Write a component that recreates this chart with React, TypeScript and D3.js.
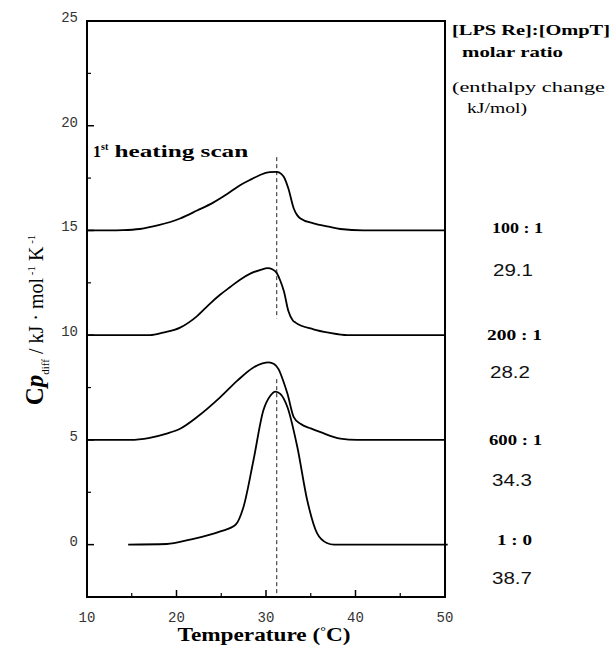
import React from "react";
import * as d3 from "d3";

const xTicksMajor = [10, 20, 30, 40, 50];
const xTicksMinor = [15, 25, 35, 45];
const yTicksMajor = [0, 5, 10, 15, 20, 25];
const yTicksMinor = [2.5, 7.5, 12.5, 17.5, 22.5];

const series100: [number, number][] = [
  [10, 15], [14, 15.02], [15.9, 15.07], [18, 15.25], [20.4, 15.57], [22.3, 15.95], [24.1, 16.33],
  [25.7, 16.75], [27.1, 17.16], [28.4, 17.45], [29.4, 17.66], [30.4, 17.78], [31.2, 17.8],
  [31.7, 17.7], [32.0, 17.55], [32.5, 17.0], [33.1, 16.05], [33.5, 15.72], [33.85, 15.57],
  [35.3, 15.34], [37, 15.18], [38.3, 15.07], [40.9, 15], [50, 15],
];
const series200: [number, number][] = [
  [10, 10], [17.05, 10], [18.5, 10.12], [20.4, 10.36], [22.3, 10.91], [23.6, 11.45], [24.9, 11.94],
  [26, 12.3], [27.1, 12.65], [28.3, 12.95], [29.4, 13.12], [30.2, 13.2], [30.7, 13.15], [31.2, 12.97],
  [31.6, 12.6], [32.0, 12.1], [32.5, 11.15], [33, 10.7], [33.3, 10.6], [35.3, 10.28], [37, 10.12],
  [39.1, 10], [50, 10],
];
const series600: [number, number][] = [
  [10, 5], [14.8, 5], [17, 5.1], [18.9, 5.3], [20.4, 5.53], [22.3, 6.09], [24.9, 7.04], [26.8, 7.83],
  [28.6, 8.46], [29.6, 8.65], [30.3, 8.7], [30.9, 8.62], [31.4, 8.38], [31.9, 7.85], [32.4, 7.2],
  [33.1, 6.09], [33.85, 5.77], [35, 5.55], [36.1, 5.37], [38.3, 5.06], [40.2, 5], [50, 5],
];
const series10: [number, number][] = [
  [14.6, 0], [18.9, 0.03], [21.5, 0.24], [24.9, 0.63], [26.6, 0.95], [27.5, 1.82], [28.6, 4.03],
  [29.7, 6.4], [30.5, 7.12], [31.05, 7.31], [31.6, 7.2], [32.4, 6.56], [33.5, 4.66], [34.6, 2.13],
  [35.7, 0.55], [36.8, 0.08], [37.6, 0], [50.3, 0],
];
const allSeries = [series100, series200, series600, series10];

const peakT = 31.2;
const dashSegments: [number, number][] = [[18.5, 10.8], [7.9, -2.5]];

const ratioLabels = ["100 : 1", "200 : 1", "600 : 1", "1 : 0"];
const enthalpyLabels = ["29.1", "28.2", "34.3", "38.7"];

const W = 614, H = 663;
const left = 87, right = 445, top = 21, bottom = 597;

export default function App() {
  const x = d3.scaleLinear().domain([10, 50]).range([left, right]);
  const y = d3.scaleLinear().domain([-2.5, 25]).range([bottom, top]);
  const line = d3.line<[number, number]>().x(d => x(d[0])).y(d => y(d[1])).curve(d3.curveMonotoneX);

  const ratioY = [228, 335, 440, 540];
  const ratioX = [492, 487, 489, 497];
  const ratioW = [51, 55, 53, 35];
  const enthY = [270, 372, 480, 578];
  const enthX = [493, 490, 492, 492];

  return (
    <svg width={W} height={H} style={{ position: "absolute", left: 0, top: 0, background: "#fff" }}>
      <rect x={0} y={0} width={W} height={H} fill="#fff" />
      {xTicksMajor.map(t => (
        <line key={"xM" + t} x1={x(t)} x2={x(t)} y1={bottom} y2={bottom - 7} stroke="#000" strokeWidth={1.5} />
      ))}
      {xTicksMinor.map(t => (
        <line key={"xm" + t} x1={x(t)} x2={x(t)} y1={bottom} y2={bottom - 4} stroke="#000" strokeWidth={1.2} />
      ))}
      {yTicksMajor.map(t => (
        <line key={"yM" + t} x1={left} x2={left + 7} y1={y(t)} y2={y(t)} stroke="#000" strokeWidth={1.5} />
      ))}
      {yTicksMinor.map(t => (
        <line key={"ym" + t} x1={left} x2={left + 4} y1={y(t)} y2={y(t)} stroke="#000" strokeWidth={1.2} />
      ))}
      {xTicksMajor.map(t => (
        <text key={"xl" + t} x={x(t)} y={622} textAnchor="middle" fontFamily="Liberation Mono, DejaVu Sans Mono" fontSize={14} fill="#333">{t}</text>
      ))}
      {yTicksMajor.map(t => (
        <text key={"yl" + t} x={78} y={y(t) + 1} textAnchor="end" fontFamily="Liberation Mono, DejaVu Sans Mono" fontSize={14} fill="#333">{t}</text>
      ))}
      {dashSegments.map((s, i) => (
        <line key={"d" + i} x1={x(peakT)} x2={x(peakT)} y1={y(s[0])} y2={y(s[1])} stroke="#222" strokeWidth={1} strokeDasharray="4,3" />
      ))}
      {allSeries.map((s, i) => (
        <path key={"s" + i} d={line(s) || ""} fill="none" stroke="#000" strokeWidth={1.8} />
      ))}
      <rect x={left} y={top} width={right - left} height={bottom - top} fill="none" stroke="#000" strokeWidth={2} />
      <text x={93} y={157} fontFamily="Liberation Serif, serif" fontWeight="bold" fontSize={16} fill="#000">
        1<tspan fontSize={10} dy={-7}>st</tspan><tspan dy={7} textLength={140} lengthAdjust="spacingAndGlyphs"> heating scan</tspan>
      </text>
      <text x={452} y={35} fontFamily="Liberation Serif, serif" fontWeight="bold" fontSize={15} textLength={158} lengthAdjust="spacingAndGlyphs">[LPS Re]:[OmpT]</text>
      <text x={462} y={57} fontFamily="Liberation Serif, serif" fontWeight="bold" fontSize={15} textLength={101} lengthAdjust="spacingAndGlyphs">molar ratio</text>
      <text x={452} y={92} fontFamily="Liberation Serif, serif" fontSize={15} textLength={153} lengthAdjust="spacingAndGlyphs">(enthalpy change</text>
      <text x={467} y={113} fontFamily="Liberation Serif, serif" fontSize={15} textLength={60} lengthAdjust="spacingAndGlyphs">kJ/mol)</text>
      {ratioLabels.map((r, i) => (
        <text key={"r" + i} x={ratioX[i]} y={ratioY[i] + 5} fontFamily="Liberation Serif, serif" fontWeight="bold" fontSize={14} textLength={ratioW[i]} lengthAdjust="spacingAndGlyphs">{r}</text>
      ))}
      {enthalpyLabels.map((e, i) => (
        <text key={"e" + i} x={enthX[i]} y={enthY[i] + 6} fontFamily="Liberation Sans, Arial, sans-serif" fontSize={16} textLength={40} lengthAdjust="spacingAndGlyphs" fill="#111">{e}</text>
      ))}
      <text x={264} y={641} textAnchor="middle" fontFamily="Liberation Serif, serif" fontWeight="bold" fontSize={18} textLength={173} lengthAdjust="spacingAndGlyphs">
        Temperature (<tspan fontSize={11} dy={-6}>°</tspan><tspan dy={6}>C)</tspan>
      </text>
      <g transform="translate(43,320) rotate(-90)">
        <text x={0} y={0} textAnchor="middle" fontFamily="Liberation Serif, serif" fontSize={20}>
          <tspan fontWeight="bold" fontSize={25}>C</tspan><tspan fontWeight="bold" fontStyle="italic" fontSize={25}>p</tspan><tspan fontSize={11} dy={6}>diff</tspan><tspan dy={-6}>  / kJ · mol</tspan><tspan fontSize={11} dy={-8}> -1</tspan><tspan dy={8}> K</tspan><tspan fontSize={11} dy={-8}> -1</tspan>
        </text>
      </g>
    </svg>
  );
}
